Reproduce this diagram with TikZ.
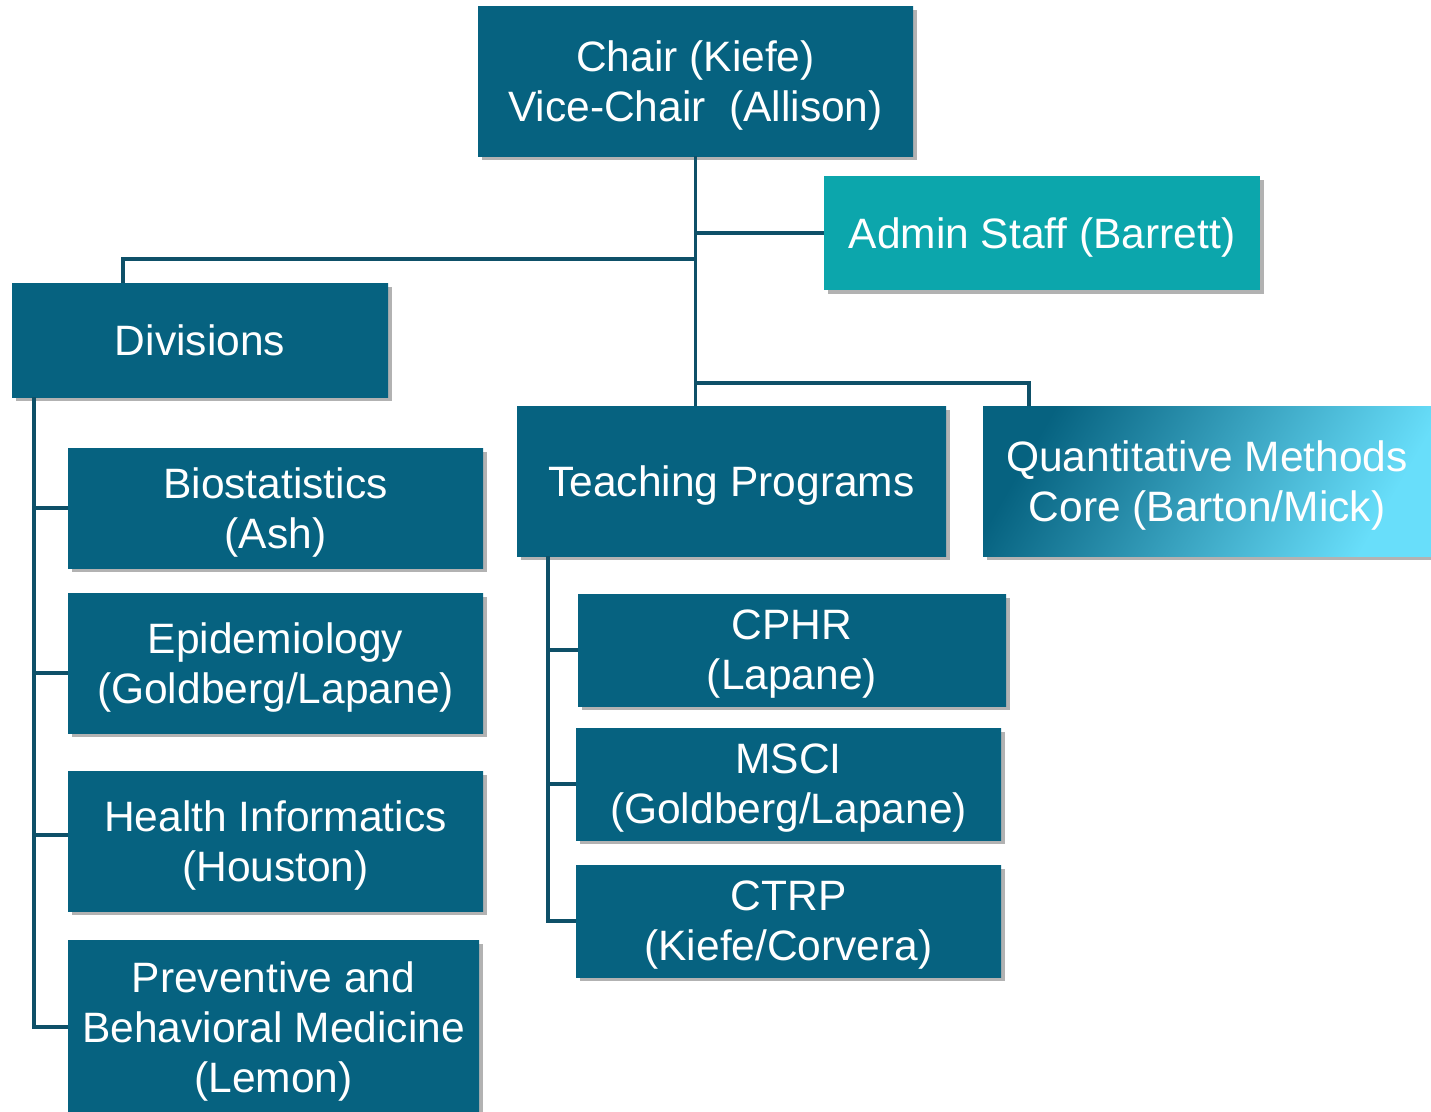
\documentclass[tikz,border=0pt]{standalone}
\usepackage{fontspec}
\setmainfont{Liberation Sans}
\usetikzlibrary{positioning,shadows}
\definecolor{boxdark}{RGB}{6,98,128}
\definecolor{boxmid}{RGB}{10,116,148}
\definecolor{linecol}{RGB}{14,80,104}
\definecolor{admincol}{RGB}{12,166,172}
\definecolor{qmmid}{RGB}{22,118,152}
\definecolor{qmlight}{RGB}{104,222,250}
\tikzstyle{basebox}  = [rectangle, inner sep=0pt, align=center, text=white, text depth=0pt, font=\fontsize{42.5}{50}\selectfont, drop shadow={shadow xshift=4pt, shadow yshift=-4pt, fill=black, opacity=0.3}]
\tikzstyle{unitbox}  = [basebox, left color=boxdark, middle color=boxmid, right color=boxdark]
\tikzstyle{adminbox} = [basebox, fill=admincol]
\tikzstyle{corebox}  = [basebox, left color=boxdark, middle color=qmmid, right color=qmlight, shading angle=60]
\tikzstyle{link}     = [line width=3.5pt, draw=linecol]

\begin{document}
\begin{tikzpicture}[x=1pt,y=-1pt]
		\useasboundingbox (0,0) rectangle (1431,1111);

		% top
		\node[unitbox, minimum width=435pt, minimum height=150pt] (chair) at (695.5,81) {Chair (Kiefe)\\Vice-Chair\ \ (Allison)};
		\node[adminbox, minimum width=436pt, minimum height=114pt] (admin) at (1042,233) {Admin Staff (Barrett)};

		% divisions
		\node[unitbox, minimum width=376pt, minimum height=114pt] (div) at (200,340) {Divisions};
		\node[unitbox, minimum width=415pt, minimum height=120pt] (bio) at (275.5,508) {Biostatistics\\(Ash)};
		\node[unitbox, minimum width=415pt, minimum height=140pt] (epi) at (275.5,663) {Epidemiology\\(Goldberg/Lapane)};
		\node[unitbox, minimum width=415pt, minimum height=140pt] (hinf) at (275.5,841) {Health Informatics\\(Houston)};
		\node[unitbox, minimum width=411pt, minimum height=174pt] (prev) at (273.5,1027) {Preventive and\\Behavioral Medicine\\(Lemon)};

		% teaching and core
		\node[unitbox, minimum width=429pt, minimum height=150pt] (teach) at (731.5,481) {Teaching Programs};
		\node[corebox, minimum width=448pt, minimum height=150pt] (qmc) at (1207,481) {Quantitative Methods\\Core (Barton/Mick)};
		\node[unitbox, minimum width=428pt, minimum height=112pt] (cphr) at (792,650) {CPHR\\(Lapane)};
		\node[unitbox, minimum width=425pt, minimum height=112pt] (msci) at (788.5,784) {MSCI\\(Goldberg/Lapane)};
		\node[unitbox, minimum width=425pt, minimum height=112pt] (ctrp) at (788.5,921) {CTRP\\(Kiefe/Corvera)};

		\coordinate (divjoin) at (695.5,259);
		\coordinate (qmjoin) at (695.5,383);

		% connectors
		\draw[link] (chair.south) -- (chair.south |- teach.north);
		\draw[link] (chair.south |- admin.west) -- (admin.west);
		\draw[link] (divjoin) -| ([xshift=111pt]div.north west);
		\draw[link] (qmjoin) -| ([xshift=46pt]qmc.north west);

		\draw[link] ([xshift=22pt]div.south west) |- (prev.west);
		\draw[link] ([xshift=22pt]div.south west |- bio.west) -- (bio.west);
		\draw[link] ([xshift=22pt,yshift=-10pt]div.south west |- epi.west) -- ([yshift=-10pt]epi.west);
		\draw[link] ([xshift=22pt,yshift=6pt]div.south west |- hinf.west) -- ([yshift=6pt]hinf.west);

		\draw[link] ([xshift=31pt]teach.south west) |- (ctrp.west);
		\draw[link] ([xshift=31pt]teach.south west |- cphr.west) -- (cphr.west);
		\draw[link] ([xshift=31pt]teach.south west |- msci.west) -- (msci.west);
	\end{tikzpicture}
\end{document}
